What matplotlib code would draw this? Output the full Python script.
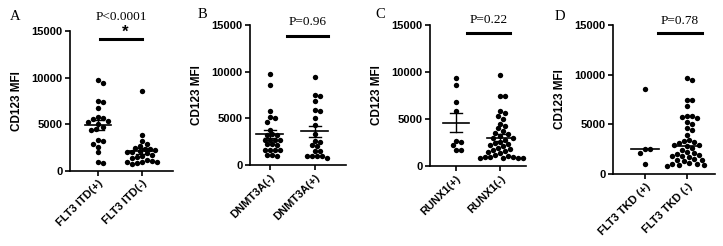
import matplotlib
matplotlib.use("Agg")
import matplotlib.pyplot as plt
import numpy as np

# data (CD123 MFI)
itd_pos = [9700, 9400, 7500, 7400, 6800, 5800, 5700, 5600, 5400, 5300, 5000,
           4700, 4500, 4400, 3300, 3200, 2900, 2600, 2000, 1000, 900]
itd_neg = [8600, 3900, 3200, 2900, 2700, 2500, 2400, 2400, 2200, 2100, 2000, 2000,
           1900, 1700, 1600, 1500, 1400, 1200, 1100, 1000, 1000, 1000, 900, 800]
dnmt_neg = [9700, 8600, 5800, 5100, 5000, 4600, 3800, 3300, 3200, 3200, 2700, 2700,
            2700, 2700, 2200, 2200, 2100, 1600, 1600, 1600, 1600, 1100, 1000, 1100]
dnmt_pos = [9400, 7500, 7400, 6900, 5900, 5800, 5000, 4300, 3300, 2600, 2500, 2100,
            2000, 1500, 1500, 1000, 1000, 1000, 1000, 800]
runx_pos = [9400, 8600, 6800, 5800, 2700, 2600, 2200, 1700, 1700]
runx_neg = [9700, 7500, 7400, 5800, 5600, 5300, 5000, 4500, 4300, 4000, 3700, 3500,
            3400, 3200, 3000, 3000, 2800, 2600, 2500, 2300, 2200, 2100, 1900, 1800,
            1700, 1600, 1500, 1400, 1200, 1100, 1000, 1000, 900, 900, 800, 800, 1000]
tkd_pos = [8600, 2500, 2500, 2100, 1000]
tkd_neg = [9700, 9500, 7500, 7400, 6800, 5800, 5800, 5700, 5600, 5200, 5000, 4600,
           4400, 3900, 3400, 3300, 3200, 3100, 2900, 2900, 2800, 2600, 2400, 2200,
           2100, 2000, 1900, 1800, 1800, 1700, 1500, 1400, 1400, 1300, 1100, 1000,
           1000, 900, 900, 800]

labels_a = ["FLT3 ITD(+)", "FLT3 ITD(-)"]
labels_b = ["DNMT3A(-)", "DNMT3A(+)"]
labels_c = ["RUNX1(+)", "RUNX1(-)"]
labels_d = ["FLT3 TKD (+)", "FLT3 TKD (-)"]
pvals = ["P<0.0001", "P=0.96", "P=0.22", "P=0.78"]

W, H = 723, 246
fig = plt.figure(figsize=(W / 100, H / 100), dpi=100)

sans = ["Liberation Sans", "DejaVu Sans"]
serif = ["Liberation Serif", "DejaVu Serif"]


def swarm(vals, xpx, ypx, d):
    # greedy beeswarm, offsets returned in data units
    order = np.argsort(-vals)
    placed = []
    offs = np.zeros(len(vals))
    step = d * 0.5
    for i in order:
        y = vals[i] * ypx
        for k in range(80):
            cand = ((k + 1) // 2) * step * (1 if k % 2 else -1) if k else 0.0
            ok = all((cand - px) ** 2 + (y - py) ** 2 >= d ** 2 for px, py in placed)
            if ok:
                break
        placed.append((cand, y))
        offs[i] = cand / xpx
    return offs


def panel(box, xlim, groups, labels, letter, letter_xy, pval, bar, text_y, median=False, star=False):
    l, r, t, b = box
    ax = fig.add_axes([l / W, (H - b) / H, (r - l) / W, (b - t) / H])
    ax.set_xlim(*xlim)
    ax.set_ylim(0, 15000)
    xpx = (r - l) / (xlim[1] - xlim[0])
    ypx = (b - t) / 15000
    for gi, vals in enumerate(groups):
        v = np.array(vals, dtype=float)
        offs = swarm(v, xpx, ypx, 5.0)
        ax.scatter(gi + offs, v, s=15, color="black", linewidths=0, zorder=3, clip_on=False)
        if median:
            c = np.median(v)
            ax.plot([gi - 0.33, gi + 0.33], [c, c], color="black", lw=1.2, zorder=2)
        else:
            c = v.mean()
            se = v.std(ddof=1) / np.sqrt(len(v))
            ax.plot([gi - 0.3, gi + 0.3], [c, c], color="black", lw=1.2, zorder=2)
            ax.plot([gi, gi], [c - se, c + se], color="black", lw=1.0, zorder=2)
            for e in (c - se, c + se):
                ax.plot([gi - 0.13, gi + 0.13], [e, e], color="black", lw=1.0, zorder=2)
    for s in ("top", "right"):
        ax.spines[s].set_visible(False)
    for s in ("left", "bottom"):
        ax.spines[s].set_linewidth(1.2)
    ax.set_yticks([0, 5000, 10000, 15000])
    ax.set_xticks([0, 1])
    ax.set_xticklabels(labels, rotation=45, ha="right", rotation_mode="anchor",
                       fontweight="bold", family=sans, fontsize=8)
    for tl in ax.get_yticklabels():
        tl.set_fontweight("bold")
        tl.set_family(sans)
        tl.set_fontsize(8)
    ax.tick_params(axis="both", length=3.5, width=1.2, pad=2)
    ax.set_ylabel("CD123 MFI", fontweight="bold", family=sans, fontsize=8.5, labelpad=6)

    ax.plot(bar[:2], [bar[2], bar[2]], color="black", lw=2.2, clip_on=False)
    ax.text((bar[0] + bar[1]) / 2, text_y, pval, ha="center", va="center",
            family=serif, fontsize=9.5)
    if star:
        ax.text((bar[0] + bar[1]) / 2 + 0.1, 14900, "*", ha="center", va="center",
                family=sans, fontsize=12, fontweight="bold")
    fig.text(letter_xy[0] / W, 1 - letter_xy[1] / H, letter, ha="center", va="center",
             family=serif, fontsize=10.5)
    return ax


panel((70, 173, 31, 171), (-0.636, 1.70), [itd_pos, itd_neg], labels_a, "A", (15, 16),
      pvals[0], (0.05, 1.0, 14100), 16500, star=True)
panel((250, 346, 25, 165), (-0.444, 1.69), [dnmt_neg, dnmt_pos], labels_b, "B", (202, 15),
      pvals[1], (0.38, 1.29, 13800), 15300)
panel((430, 526, 25, 166), (-0.59, 1.59), [runx_pos, runx_neg], labels_c, "C", (380, 15),
      pvals[2], (0.25, 1.23, 14150), 15500)
panel((613, 715, 25, 174), (-0.76, 1.67), [tkd_pos, tkd_neg], labels_d, "D", (560, 16),
      pvals[3], (0.31, 1.36, 14200), 15400, median=True)

fig.savefig("out.png", dpi=100)
